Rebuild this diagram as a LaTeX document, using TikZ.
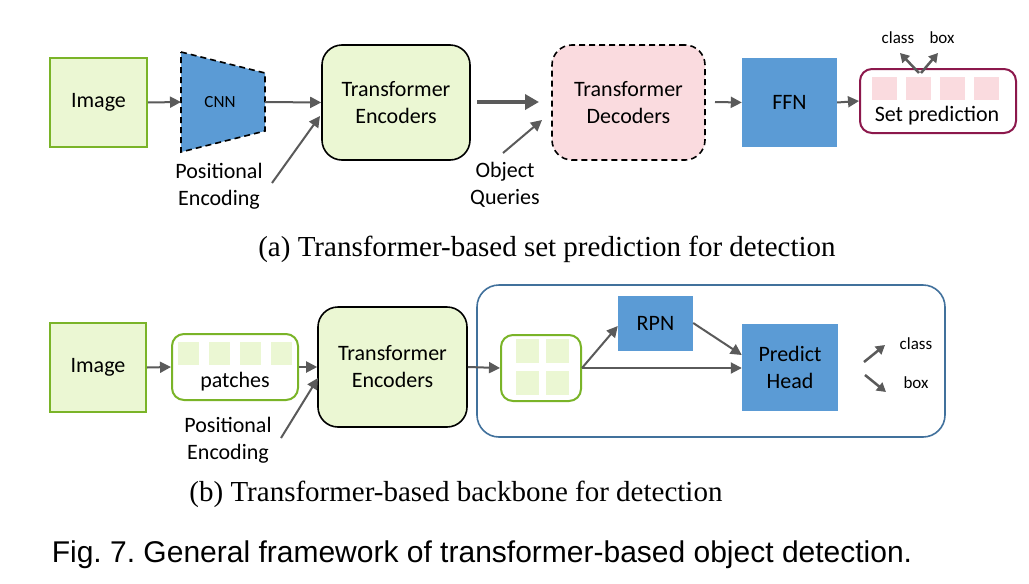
\documentclass[tikz,border=0pt]{standalone}
\usepackage{fontspec}
\setmainfont{Carlito}
\newfontfamily\capfont{Liberation Serif}
\newfontfamily\figfont{Liberation Sans}
\usetikzlibrary{arrows.meta}
\definecolor{gfill}{RGB}{235,247,211}
\definecolor{gborder}{RGB}{122,180,40}
\definecolor{bfill}{RGB}{91,155,213}
\definecolor{pfill}{RGB}{250,219,223}
\definecolor{mborder}{RGB}{140,24,76}
\definecolor{cborder}{RGB}{65,113,156}
\definecolor{agray}{RGB}{90,90,90}
\frenchspacing
\begin{document}
\begin{tikzpicture}[x=1pt,y=-1pt,
  mainfs/.style={font=\fontsize{22}{27}\selectfont},
  smallfs/.style={font=\fontsize{17}{20}\selectfont},
  greenbox/.style={draw=gborder, fill=gfill, line width=2pt, inner sep=0pt, align=center, mainfs},
  encbox/.style={draw=black, fill=gfill, line width=1.6pt, rounded corners=20pt, inner sep=0pt, align=center, mainfs},
  decbox/.style={draw=black, fill=pfill, line width=1.6pt, rounded corners=20pt, dash pattern=on 6pt off 4pt, inner sep=0pt, align=center, mainfs},
  bluebox/.style={fill=bfill, draw=none, inner sep=0pt, align=center, mainfs},
  holder/.style={draw=gborder, fill=white, line width=2pt, rounded corners=12pt, inner sep=0pt},
  gsq/.style={fill=gfill, draw=none, minimum width=21pt, minimum height=23pt, inner sep=0pt},
  psq/.style={fill=pfill, draw=none, minimum width=25pt, minimum height=23pt, inner sep=0pt},
  lbl/.style={align=center, inner sep=0pt, mainfs},
  arr/.style={draw=agray, line width=2pt, -{Triangle[length=11pt,width=11pt]}},
  bigarr/.style={draw=agray, line width=4pt, -{Triangle[length=14pt,width=15pt]}},
  caption/.style={inner sep=0pt}
]
\useasboundingbox (0,0) rectangle (1029,584);
\fill[white] (0,0) rectangle (1029,584);

% ---------- (a) ----------
\node[greenbox, minimum width=97pt, minimum height=89pt] (img1) at (98.5,102.5) {Image};
\draw[fill=bfill, line width=1.6pt, dash pattern=on 6pt off 4pt] (181,52) -- (265,73) -- (265,131) -- (181,152) -- cycle;
\node[inner sep=0pt, minimum width=84pt, minimum height=58pt, smallfs] (cnn) at (220,102) {CNN};
\node[encbox, minimum width=148pt, minimum height=115pt] (enc1) at (396,102.5) {Transformer\\Encoders};
\node[lbl] (pe1) at (219,186) {Positional\\Encoding};
\coordinate (pe1s) at (272,183);
\node[decbox, minimum width=153pt, minimum height=115pt] (dec) at (628.5,102.5) {Transformer\\Decoders};
\node[lbl] (oq) at (505,185) {Object\\Queries};
\coordinate (oqs) at (503,153);
\coordinate (bigs) at (477,102);
\coordinate (bige) at (539,102);
\node[bluebox, minimum width=95pt, minimum height=89pt] (ffn) at (789.5,102.5) {FFN};
\node[draw=mborder, line width=2pt, rounded corners=12pt, fill=white, minimum width=156pt, minimum height=64pt, inner sep=0pt] (setp) at (938,101) {};
\foreach \i/\x in {1/884.5,2/918.5,3/952.5,4/986.5}{
  \node[psq] (sq\i) at (\x,88.5) {};
}
\node[lbl] (setptxt) at (937,116) {Set prediction};
\node[smallfs, inner sep=0pt] (cls1) at (898,38) {class};
\node[smallfs, inner sep=0pt] (box1) at (942,38) {box};
\coordinate (cb1) at (919,73);
\coordinate (cb2) at (921,73);
\coordinate (cls1e) at (900,53);
\coordinate (box1e) at (938,53);

\draw[arr] (img1.east) -- (cnn.west -| 181,0);
\draw[arr] (cnn.east -| 265,0) -- (enc1.west);
\draw[arr] (pe1s) -- (320,116);
\draw[bigarr] (bigs) -- (bige);
\draw[arr] (oqs) -- (542,120);
\draw[arr] (715,102) -- (ffn.west);
\draw[arr] (ffn.east) -- (setp.west);
\draw[draw=agray, line width=2.5pt, -{Triangle[length=9pt,width=10pt]}] (cb1) -- (cls1e);
\draw[draw=agray, line width=2.5pt, -{Triangle[length=9pt,width=10pt]}] (cb2) -- (box1e);

\node[caption, font=\capfont\fontsize{29}{34}\selectfont] (capa) at (547,249) {(a) Transformer-based set prediction for detection};

% ---------- (b) ----------
\node[draw=cborder, line width=1.6pt, rounded corners=22pt, minimum width=468pt, minimum height=152pt, inner sep=0pt] (cont) at (711,361) {};
\node[greenbox, minimum width=96pt, minimum height=89pt] (img2) at (98,367.5) {Image};
\node[holder, minimum width=126pt, minimum height=66pt] (patch) at (235,367) {};
\foreach \i/\x in {1/188,2/219,3/250,4/281}{
  \node[gsq] (p\i) at (\x,353.5) {};
}
\node[lbl] (patchtxt) at (235,382) {patches};
\node[lbl] (pe2) at (228,440) {Positional\\Encoding};
\coordinate (pe2s) at (281,438);
\node[encbox, minimum width=149pt, minimum height=120pt] (enc2) at (392.5,367) {Transformer\\Encoders};
\node[holder, minimum width=80pt, minimum height=66pt] (grid) at (541,368) {};
\node[gsq, minimum width=23pt, minimum height=24pt] (g1) at (527.5,351) {};
\node[gsq, minimum width=23pt, minimum height=24pt] (g2) at (557.5,351) {};
\node[gsq, minimum width=23pt, minimum height=24pt] (g3) at (527.5,382.5) {};
\node[gsq, minimum width=23pt, minimum height=24pt] (g4) at (557.5,382.5) {};
\node[bluebox, minimum width=75pt, minimum height=55pt] (rpn) at (655.5,323.5) {RPN};
\node[bluebox, minimum width=96pt, minimum height=87pt] (ph) at (790,367.5) {Predict\\Head};
\node[smallfs, inner sep=0pt] (cls2) at (916,344) {class};
\node[smallfs, inner sep=0pt] (box2) at (916,383) {box};
\coordinate (c2s) at (864,362);
\coordinate (c2e) at (885,345);
\coordinate (b2s) at (865,375);
\coordinate (b2e) at (886,392);

\draw[arr] (img2.east) -- (patch.west);
\draw[arr] (patch.east) -- (enc2.west);
\draw[arr] (pe2s) -- (318,378);
\draw[arr] (enc2.east) -- (grid.west);
\draw[arr] (grid.east) -- (rpn.west |- 0,326) ;
\draw[arr] (rpn.east |- 0,323) -- (ph.west |- 0,355);
\draw[arr] (grid.east) -- (ph.west |- grid.east);
\draw[draw=agray, line width=2.5pt, -{Triangle[length=9pt,width=10pt]}] (c2s) -- (c2e);
\draw[draw=agray, line width=2.5pt, -{Triangle[length=9pt,width=10pt]}] (b2s) -- (b2e);

\node[caption, font=\capfont\fontsize{29}{34}\selectfont] (capb) at (456,494) {(b) Transformer-based backbone for detection};

\node[caption, font=\figfont\fontsize{30}{36}\selectfont] (fig) at (482,555) {Fig. 7. General framework of transformer-based object detection.};
\end{tikzpicture}
\end{document}
